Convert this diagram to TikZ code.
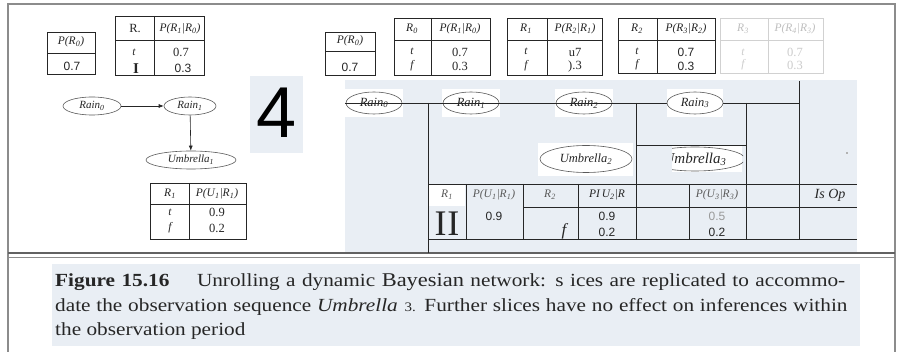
\documentclass[tikz,border=0pt]{standalone}
\usepackage{fontspec}
\usepackage{graphicx}
\setmainfont{Liberation Serif}
\setsansfont{Liberation Sans}
\usetikzlibrary{shapes.geometric,arrows.meta}
\definecolor{panel}{HTML}{E9EEF4}
\definecolor{frame}{HTML}{8C8C8C}
\definecolor{ink}{HTML}{262626}
\definecolor{soft}{HTML}{5A5A5A}
\newcommand{\condp}[4]{\textit{P}(\textit{#1}\textsubscript{#2}\textbar\textit{#3}\textsubscript{#4})}
\newcommand{\wideline}[2]{\scalebox{1.15}[1]{\hbox to #1{#2}}}
\begin{document}
\begin{tikzpicture}[x=1pt,y=-1pt,
  rule/.style={draw=ink,line width=0.9pt},
  faint/.style={draw=black!18,line width=0.9pt},
  ell/.style={ellipse,draw=soft,line width=0.6pt,inner sep=0pt,font=\itshape\fontsize{11}{11}\selectfont,text=ink},
  gell/.style={ell,minimum width=56pt,minimum height=22pt,font=\itshape\fontsize{12.5}{12.5}\selectfont},
  lab/.style={inner sep=0pt,font=\itshape\fontsize{11.5}{11.5}\selectfont,text=ink},
  rlab/.style={inner sep=0pt,font=\fontsize{12.5}{12.5}\selectfont,text=ink},
  num/.style={inner sep=0pt,font=\sffamily\fontsize{12}{12}\selectfont,text=ink},
  patch/.style={fill=white,draw=none},
  captxt/.style={anchor=base west,inner sep=0pt,font=\fontsize{18.5}{18.5}\selectfont,text=ink},
  arr/.style={draw=ink,line width=0.6pt,-{Latex[length=5pt,width=4pt]}}]
\useasboundingbox (0,0) rectangle (898,352);
\fill[white] (0,0) rectangle (898,352);
% panels
\fill[panel] (345,80) rectangle (857,253);
\fill[panel] (250,76) rectangle (303,153);
\fill[panel] (52,264) rectangle (860,346);
% frame
\draw[frame,line width=1.4pt] (8,352) -- (8,4) -- (895,4) -- (895,352);
\draw[frame!70!black,line width=1.4pt] (8,253) -- (895,253);
\draw[frame,line width=0.8pt] (8,257.5) -- (895,257.5);

% ---------- left slice ----------
\draw[rule] (47,32) rectangle (95,74);
\draw[rule] (47,53) -- (95,53);
\node[lab] (pr0a) at (71,42) {\textit{P}(\textit{R}\textsubscript{0})};
\fill[patch] (62,60) rectangle (84,73);
\node[num] (pv0a) at (72,66) {0.7};

\draw[rule] (115,16) rectangle (204,75);
\draw[rule] (154,16) -- (154,75);
\draw[rule] (115,40) -- (204,40);
\node[rlab] (ha1) at (135,29) {R.};
\node[lab] (ha2) at (180,29) {\condp{R}{1}{R}{0}};
\node[lab] (ta1) at (134,52) {t};
\node[rlab,font=\bfseries\fontsize{15}{15}\selectfont] (fa1) at (136,69) {I};
\node[rlab] (va1) at (181,52) {0.7};
\fill[patch] (170,62) rectangle (196,74);
\node[num] (va2) at (183,68) {0.3};

\node[ell,minimum width=58pt,minimum height=18pt] (rain0a) at (92,106) {Rain\textsubscript{0}};
\fill[patch] (162,97) rectangle (222,122);
\node[ell,minimum width=52pt,minimum height=18pt] (rain1a) at (190,106) {Rain\textsubscript{1}};
\draw[arr] (rain0a) -- (rain1a);
\node[ell,minimum width=90pt,minimum height=18pt] (umb1a) at (191,160) {Umbrella\textsubscript{1}};
\draw[arr] (rain1a) -- (umb1a);

\draw[rule] (150,183) rectangle (246,239);
\draw[rule] (189,183) -- (189,239);
\draw[rule] (150,204) -- (246,204);
\node[lab] (hu1) at (170,194) {R\textsubscript{1}};
\node[lab] (hu2) at (217,194) {\condp{U}{1}{R}{1}};
\node[lab] (tu1) at (170,212) {t};
\node[lab] (fu1) at (170,228) {f};
\node[rlab] (vu1) at (217,212) {0.9};
\node[rlab] (vu2) at (217,228) {0.2};

% big 4
\node[inner sep=0pt,font=\sffamily\fontsize{72}{72}\selectfont] (four) at (277,113) {4};

% ---------- top tables, right part ----------
\draw[rule] (325,32) rectangle (375,75);
\draw[rule] (325,51) -- (375,51);
\node[lab] (pr0b) at (350,41) {\textit{P}(\textit{R}\textsubscript{0})};
\fill[patch] (337,61) rectangle (363,74);
\node[num] (pv0b) at (350,67) {0.7};

\draw[rule] (394,18) rectangle (490,75);
\draw[rule] (431,18) -- (431,75);
\draw[rule] (394,40) -- (490,40);
\node[lab] (hb1) at (412,29) {R\textsubscript{0}};
\node[lab] (hb2) at (460,29) {\condp{R}{1}{R}{0}};
\node[lab] (tb1) at (412,51) {t};
\node[lab] (fb1) at (412,66) {f};
\node[rlab] (vb1) at (460,52) {0.7};
\node[rlab] (vb2) at (460,66) {0.3};

\draw[rule] (507,18) rectangle (602,75);
\draw[rule] (547,18) -- (547,75);
\draw[rule] (507,40) -- (602,40);
\node[lab] (hc1) at (526,29) {R\textsubscript{1}};
\node[lab] (hc2) at (575,29) {\condp{R}{2}{R}{1}};
\node[lab] (tc1) at (526,51) {t};
\node[lab] (fc1) at (526,66) {f};
\node[rlab] (vc1) at (575,52) {u7};
\node[rlab] (vc2) at (575,66) {).3};

\draw[rule] (618,18) rectangle (715,73);
\draw[rule] (657,18) -- (657,73);
\draw[rule] (618,40) -- (715,40);
\node[lab] (hd1) at (637,29) {R\textsubscript{2}};
\node[lab] (hd2) at (686,29) {\condp{R}{3}{R}{2}};
\node[lab] (td1) at (637,51) {t};
\node[lab] (fd1) at (637,65) {f};
\fill[patch] (672,45) rectangle (700,72);
\node[num] (vd1) at (686,52) {0.7};
\node[num] (vd2) at (686,66) {0.3};

\draw[faint] (720,18) rectangle (823,73);
\draw[faint] (768,18) -- (768,73);
\draw[faint] (720,40) -- (823,40);
\node[lab,text=black!25] (he1) at (743,29) {R\textsubscript{3}};
\node[lab,text=black!25] (he2) at (795,29) {\condp{R}{4}{R}{3}};
\node[lab,text=black!20] (te1) at (743,52) {t};
\node[lab,text=black!20] (fe1) at (743,65) {f};
\node[rlab,text=black!20] (ve1) at (795,52) {0.7};
\node[rlab,text=black!20] (ve2) at (795,65) {0.3};

% ---------- grid region ----------
\fill[patch] (345,89) rectangle (403,117);
\node[gell] (rain0b) at (374,103) {Rain\textsubscript{0}};
\fill[patch] (442,89) rectangle (500,117);
\node[gell] (rain1b) at (471,103) {Rain\textsubscript{1}};
\fill[patch] (555,89) rectangle (613,117);
\node[gell] (rain2b) at (584,103) {Rain\textsubscript{2}};

\draw[rule] (345,103) -- (799,103);
\fill[patch] (667,89) rectangle (723,117);
\node[gell] (rain3b) at (695,103) {Rain\textsubscript{3}};

\draw[rule] (428,103) -- (428,253);
\draw[rule] (636,103) -- (636,239);
\draw[rule] (746,103) -- (746,239);
\draw[rule] (799,81) -- (799,239);
\draw[rule] (636,145) -- (746,145);
\draw[rule] (428,184) -- (857,184);
\draw[rule] (523,207) -- (857,207);
\draw[rule] (428,239) -- (857,239);
\draw[rule] (466,184) -- (466,239);
\draw[rule] (523,184) -- (523,239);
\draw[rule] (578,184) -- (578,239);
\draw[rule] (689,184) -- (689,239);

\fill[patch] (538,143) rectangle (633,176);
\node[ell,minimum width=92pt,minimum height=27pt,font=\itshape\fontsize{12.5}{12.5}\selectfont] (umb2b) at (586,159) {Umbrella\textsubscript{2}};
\fill[patch] (672,146) rectangle (742,172);
\begin{scope}
\clip (672,146) rectangle (743,173);
\node[ell,minimum width=100pt,minimum height=24pt,font=\itshape\fontsize{15}{15}\selectfont] (umb3b) at (695,159) {Umbrella\textsubscript{3}};
\end{scope}

\fill[patch] (429,185) rectangle (465,206);
\node[lab,text=soft] (hg1) at (447,195) {R\textsubscript{1}};
\node[rlab,font=\fontsize{36}{36}\selectfont] (gII) at (447,224) {I\kern1pt I};
\node[lab,text=soft] (hg2) at (494,195) {\condp{U}{1}{R}{1}};
\node[num] (vg1) at (494,216) {0.9};
\node[lab,text=soft] (hg3) at (550,195) {R\textsubscript{2}};
\node[lab,font=\itshape\fontsize{17}{17}\selectfont] (fg1) at (564,231) {f};
\node[lab] (hg4) at (607,195) {PI\,U\textsubscript{2}\textbar\textit{R}};
\node[num] (vg2) at (607,216) {0.9};
\node[num] (vg3) at (607,232) {0.2};
\node[lab,text=soft] (hg5) at (717,195) {\condp{U}{3}{R}{3}};
\node[num,text=black!40] (vg4) at (717,216) {0.5};
\node[num] (vg5) at (717,232) {0.2};
\node[lab,font=\itshape\fontsize{14}{14}\selectfont] (isop) at (830,195) {Is Op};
\fill[black!30] (846,152) rectangle (848,154);

% ---------- caption ----------
\node[captxt] (cap1) at (55,287) {\wideline{687pt}{{\bfseries Figure 15.16}\hskip 24pt Unrolling a dynamic {\fontsize{19.5}{19.5}\selectfont Bayesian} network: s ices are replicated to accommo-}};
\node[captxt] (cap2) at (55,312) {\wideline{689pt}{date the observation sequence \textit{Umbrella}\hskip 6pt{\fontsize{13}{13}\selectfont 3.} Further slices have no effect on inferences within}};
\node[captxt] (cap3) at (55,336) {\scalebox{1.15}[1]{the observation period}};
\end{tikzpicture}
\end{document}
